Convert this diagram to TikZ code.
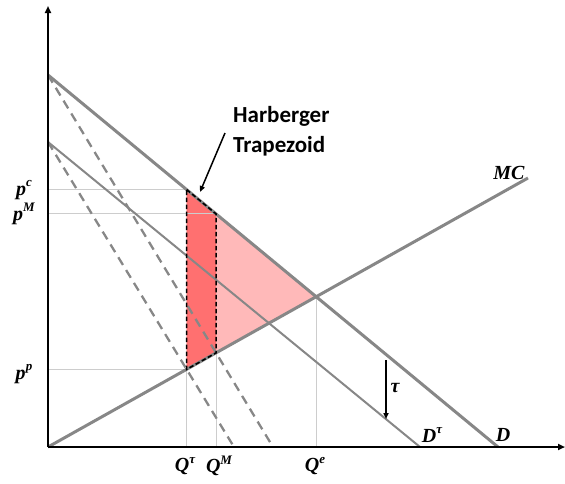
\documentclass[tikz,border=0pt]{standalone}
\usepackage{fontspec}
\newfontfamily\calib{Carlito}
\newfontfamily\labfont{Liberation Serif}
\usetikzlibrary{arrows.meta,calc}
\definecolor{linegray}{RGB}{135,135,135}
\definecolor{guidegray}{RGB}{205,205,205}
\definecolor{trapred}{RGB}{255,112,112}
\definecolor{tripink}{RGB}{255,185,185}
\newcommand{\lab}[2]{{\labfont\bfseries\itshape #1\raisebox{0.42em}{\fontsize{13}{13}\selectfont #2}}}
\tikzset{
  axisline/.style={line width=2pt,-{Triangle[length=7pt,width=6pt]}},
  curveD/.style={linegray,line width=3pt},
  curveDt/.style={linegray,line width=2pt},
  mrline/.style={linegray,line width=2.3pt,dash pattern=on 9pt off 6pt},
  guide/.style={guidegray,line width=0.9pt},
  trapborder/.style={black,line width=1.6pt,dash pattern=on 4.5pt off 2.5pt},
  mlabel/.style={font=\fontsize{20}{20}\selectfont,inner sep=0pt},
  note/.style={font=\calib\bfseries\fontsize{23}{30}\selectfont,align=left,inner sep=0pt}
}
\begin{document}
\begin{tikzpicture}[x=1pt,y=-1pt]
\useasboundingbox (0,0) rectangle (565,483);
% key coordinates
\coordinate (O) at (48,447);
\coordinate (Ytop) at (48,6);
\coordinate (Xend) at (565,447);
\coordinate (Dtop) at (48,75);
\coordinate (Dbot) at (498,447);
\coordinate (Dttop) at (48,142);
\coordinate (Dtbot) at (420,447);
\coordinate (MCend) at (528,178);
\coordinate (MRa) at (273,447);
\coordinate (MRb) at (234,447);
\coordinate (Qe) at (intersection of Dtop--Dbot and O--MCend);
\coordinate (QMp) at (intersection of Dtop--MRa and O--MCend);
\coordinate (QMv) at (QMp |- Ytop);
\coordinate (PM) at (intersection of Dtop--Dbot and QMp--QMv);
\coordinate (Qtp) at (intersection of Dttop--MRb and O--MCend);
\coordinate (Qtv) at (Qtp |- Ytop);
\coordinate (Pc) at (intersection of Dtop--Dbot and Qtp--Qtv);
% fills
\fill[tripink] (Pc) -- (Qe) -- (Qtp) -- cycle;
\fill[trapred] (Pc) -- (PM) -- (QMp) -- (Qtp) -- cycle;
% guides
\draw[guide] (Pc -| O) -- (Pc);
\draw[guide] (PM -| O) -- (PM);
\draw[guide] (Qtp -| O) -- (Qtp);
\draw[guide] (Qtp |- O) -- (Qtp);
\draw[guide] (QMp |- O) -- (QMp);
\draw[guide] (Qe |- O) -- (Qe);
% curves
\draw[mrline] (Dtop) -- (MRa);
\draw[mrline] (Dttop) -- (MRb);
\draw[curveDt] (Dttop) -- (Dtbot);
\draw[curveD] (Dtop) -- (Dbot);
\draw[curveD] (O) -- (MCend);
% trapezoid border
\draw[trapborder] (Pc) -- (PM) -- (QMp) -- (Qtp) -- cycle;
% axes
\draw[axisline] (O) -- (Ytop);
\draw[axisline] (O) -- (Xend);
% tau arrow
\coordinate (tauA) at (386,360);
\coordinate (tauB) at (386,419);
\draw[line width=1.5pt,-{Triangle[length=6pt,width=5pt]}] (tauA) -- (tauB);
\node[mlabel] (tau) at (395,388) {\lab{τ}{}};
% labels
\node[mlabel] (pc) at (24,190) {\lab{p}{c}};
\node[mlabel] (pM) at (24,214) {\lab{p}{M}};
\node[mlabel] (pp) at (24,374) {\lab{p}{p}};
\node[mlabel] (Qt) at (185,466) {\lab{Q}{τ}};
\node[mlabel] (QM) at (219,466) {\lab{Q}{M}};
\node[mlabel] (Qel) at (315,466) {\lab{Q}{e}};
\node[mlabel] (Dtl) at (432,435) {\lab{D}{τ}};
\node[mlabel] (Dl) at (503,435) {\lab{D}{}};
\node[mlabel] (MCl) at (509,173) {\lab{MC}{}};
\node[note,anchor=north west] (HT) at (233,106) {Harberger\\Trapezoid};
\coordinate (HTa) at (225,133);
\coordinate (HTb) at (200,192);
\draw[line width=1.5pt,-{Triangle[length=6pt,width=5pt]}] (HTa) -- (HTb);
\end{tikzpicture}
\end{document}
